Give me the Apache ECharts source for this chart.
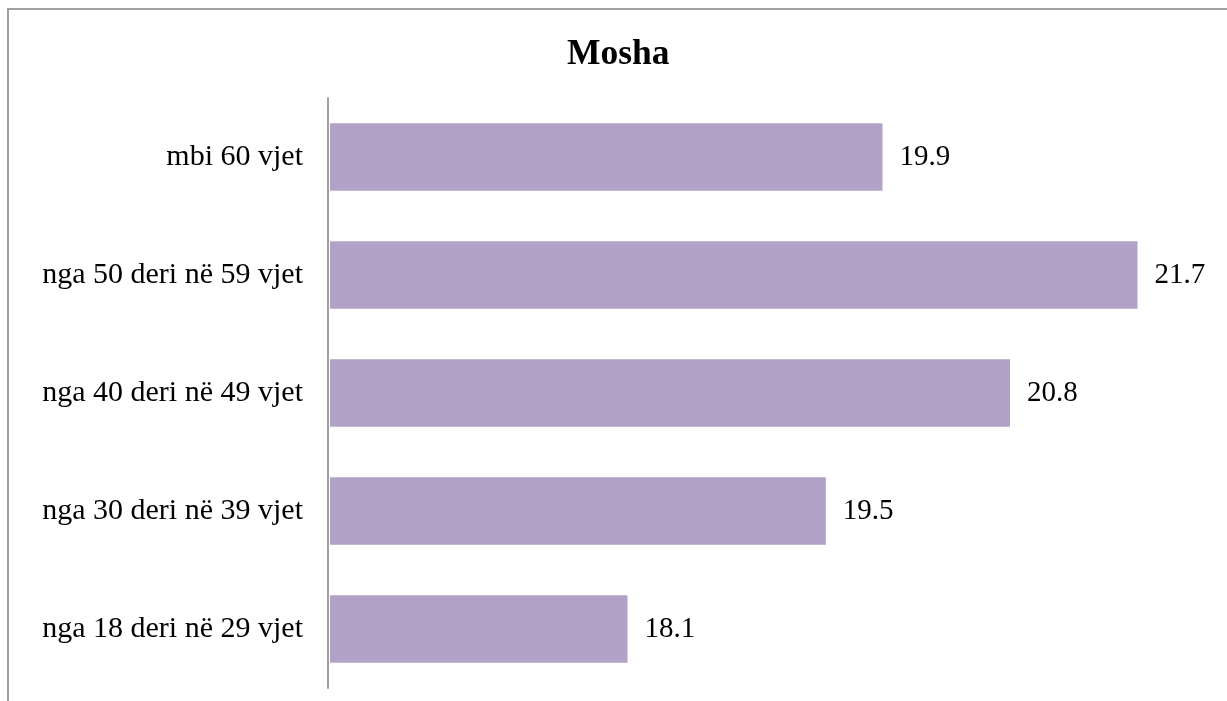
<!DOCTYPE html>
<html>
<head>
<meta charset="utf-8">
<script src="https://cdn.jsdelivr.net/npm/echarts@6/dist/echarts.min.js"></script>
<style>
    html, body { margin: 0; padding: 0; background: #fff; }
    #chart { width: 1227px; height: 701px; }
</style>
</head>
<body>
<div id="chart"></div>
<script>
    // kategorite nga poshte lart (ashtu si i vendos echarts ne boshtin y)
    var categories = [ 'nga 18 deri në 29 vjet', 'nga 30 deri në 39 vjet', 'nga 40 deri në 49 vjet', 'nga 50 deri në 59 vjet', 'mbi 60 vjet' ];
    var values = [ 18.1, 19.5, 20.8, 21.7, 19.9 ];
    var titleText = 'Mosha';

    var myChart = echarts.init( document.getElementById( 'chart' ) ),
        option = {
            animation: false,
            backgroundColor: '#fff',
            title: {
                text: titleText,
                left: 562,
                top: 32,
                textStyle: {
                    fontFamily: 'Liberation Serif',
                    fontSize: 35.5,
                    fontWeight: 'bold',
                    color: '#000'
                }
            },
            graphic: [ {
                type: 'rect',
                shape: { x: 8, y: 9, width: 1240, height: 720 },
                style: { fill: null, stroke: '#a0a0a0', lineWidth: 2 },
                silent: true
            } ],
            grid: {
                left: 330,
                right: 47,
                top: 98,
                bottom: 13,
                containLabel: false
            },
            xAxis: {
                type: 'value',
                min: 16,
                max: 22,
                show: false
            },
            yAxis: {
                type: 'category',
                data: categories,
                offset: 2,
                axisLine: { show: true, lineStyle: { color: '#a0a0a0', width: 2 } },
                axisTick: { show: false },
                axisLabel: {
                    margin: 25,
                    fontFamily: 'Liberation Serif',
                    fontSize: 30,
                    color: '#000'
                }
            },
            series: [ {
                type: 'bar',
                data: values,
                barWidth: '57%',
                itemStyle: { color: '#b2a2c8' },
                label: {
                    show: true,
                    position: 'right',
                    distance: 17,
                    fontFamily: 'Liberation Serif',
                    fontSize: 29,
                    color: '#000',
                    formatter: function( p ) { return p.value.toFixed( 1 ); }
                }
            } ]
        };

    myChart.setOption( option );
</script>
</body>
</html>
